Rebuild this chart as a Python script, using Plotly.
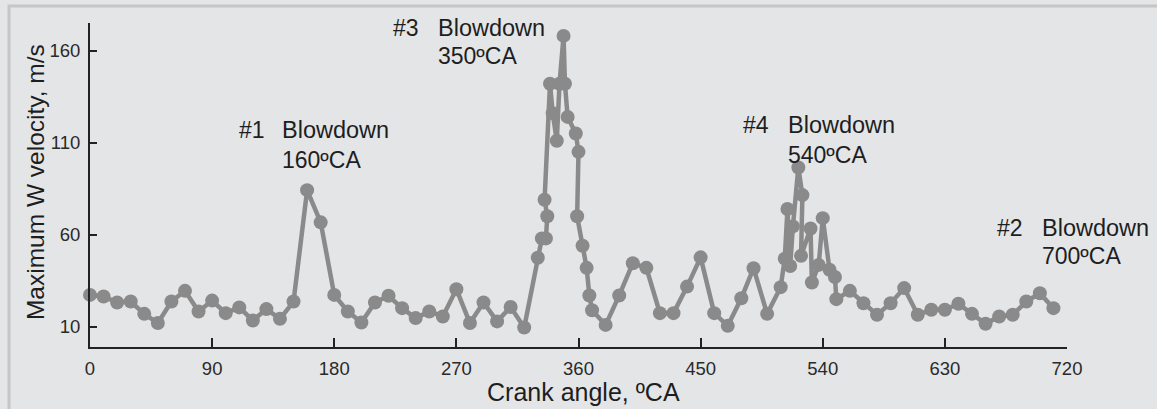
import plotly.graph_objects as go

# Crank angle (°CA) and maximum W velocity (m/s)
crank_angle = [0, 10, 20, 30, 40, 50, 60, 70, 80, 90, 100, 110, 120, 130, 140, 150,
               160, 170, 180, 190, 200, 210, 220, 230, 240, 250, 260, 270, 280, 290,
               300, 310, 320, 330, 333, 336, 337, 335, 339, 341, 344, 346, 349, 350,
               352, 358, 360, 359, 363, 366, 368, 370, 380, 390, 400, 410, 420, 430,
               440, 450, 460, 470, 480, 489, 499, 509, 512, 514, 516, 518, 522, 525,
               524, 531, 532, 537, 540, 545, 549, 550, 560, 570, 580, 590, 600, 610,
               620, 630, 640, 650, 660, 670, 680, 690, 700, 710]
velocity = [27.3, 26.4, 23.2, 23.7, 17.0, 12.0, 23.7, 29.5, 18.3, 24.2, 17.4, 20.5,
            13.4, 19.6, 14.3, 23.7, 84.2, 66.7, 27.3, 18.3, 12.3, 23.2, 26.8, 20.1,
            14.7, 18.3, 15.6, 30.4, 12.0, 23.2, 12.9, 20.7, 9.6, 47.5, 58.0, 58.0,
            70.0, 79.0, 142.0, 126.0, 111.0, 142.0, 168.0, 142.0, 124.0, 115.0, 105.0,
            70.0, 54.0, 42.0, 27.0, 19.0, 11.0, 27.0, 44.5, 42.0, 17.4, 17.4, 31.8,
            47.7, 17.4, 10.5, 25.5, 41.8, 17.0, 31.5, 47.0, 74.0, 43.0, 64.5, 96.5,
            81.5, 48.5, 63.4, 34.0, 43.6, 69.0, 41.0, 37.0, 25.0, 29.5, 22.8, 16.5,
            22.8, 31.0, 16.5, 19.2, 19.2, 22.5, 17.0, 11.6, 15.6, 16.5, 23.7, 28.2, 20.1]

x_ticks = [0, 90, 180, 270, 360, 450, 540, 630, 720]
y_ticks = [10, 60, 110, 160]

# Event labels: (number label, number x, line-1 y, text x, line-2 y, angle label)
events = [
    ("#1", 108, 116.7, 140, 100.4, "160ºCA"),
    ("#3", 222, 172.4, 255, 157.3, "350ºCA"),
    ("#4", 480, 119.4, 513, 103.1, "540ºCA"),
    ("#2", 667, 63.6, 700, 48.4, "700ºCA"),
]

FONT = "Liberation Sans, Arial, sans-serif"
GRAY = "#8a8a8a"
TXT = "#1e1e1e"

fig = go.Figure()
fig.add_trace(go.Scatter(
    x=crank_angle, y=velocity, mode="lines+markers",
    line=dict(color=GRAY, width=4.5),
    marker=dict(color=GRAY, size=14, line=dict(width=0)),
    showlegend=False, cliponaxis=False,
))

annotations = []
for num, nx, y1, tx, y2, ang in events:
    annotations.append(dict(x=nx, y=y1, xref="x", yref="y", text=num, showarrow=False,
                            xanchor="left", yanchor="middle",
                            font=dict(family=FONT, size=23, color=TXT)))
    annotations.append(dict(x=tx, y=y1, xref="x", yref="y", text="Blowdown", showarrow=False,
                            xanchor="left", yanchor="middle",
                            font=dict(family=FONT, size=23.5, color=TXT)))
    annotations.append(dict(x=tx, y=y2, xref="x", yref="y", text=ang, showarrow=False,
                            xanchor="left", yanchor="middle",
                            font=dict(family=FONT, size=23, color=TXT)))

# axis titles
annotations.append(dict(x=0.505, y=-0.139, xref="paper", yref="paper",
                        text="Crank angle, ºCA", showarrow=False,
                        xanchor="center", yanchor="middle",
                        font=dict(family=FONT, size=25, color=TXT)))
annotations.append(dict(x=-0.056, y=0.51, xref="paper", yref="paper",
                        text="Maximum W velocity, m/s", showarrow=False, textangle=-90,
                        xanchor="center", yanchor="middle",
                        font=dict(family=FONT, size=24.5, color=TXT)))

fig.update_layout(
    width=1157, height=409,
    margin=dict(l=90, r=90, t=23, b=62),
    paper_bgcolor="#e4e5e7", plot_bgcolor="#e4e5e7",
    annotations=annotations,
    shapes=[dict(type="rect", xref="paper", yref="paper",
                 x0=-0.0829, x1=1.2, y0=-0.25, y1=1.0525,
                 line=dict(color="#c6c6c6", width=3), fillcolor="rgba(0,0,0,0)",
                 layer="below")],
    xaxis=dict(range=[0, 720], tickvals=x_ticks, ticktext=[str(v) for v in x_ticks],
               ticks="inside", ticklen=9, tickwidth=2, tickcolor="#222",
               showline=True, linecolor="#222", linewidth=2, showgrid=False,
               zeroline=False, tickfont=dict(family=FONT, size=18.5, color="#2a2a2a"),
               ticklabelstandoff=4),
    yaxis=dict(range=[-1, 175], tickvals=y_ticks, ticktext=[str(v) for v in y_ticks],
               ticks="inside", ticklen=7, tickwidth=2, tickcolor="#222",
               showline=True, linecolor="#222", linewidth=2, showgrid=False,
               zeroline=False, tickfont=dict(family=FONT, size=18.5, color="#2a2a2a"),
               ticklabelstandoff=4),
)

fig.write_html("out.html")
